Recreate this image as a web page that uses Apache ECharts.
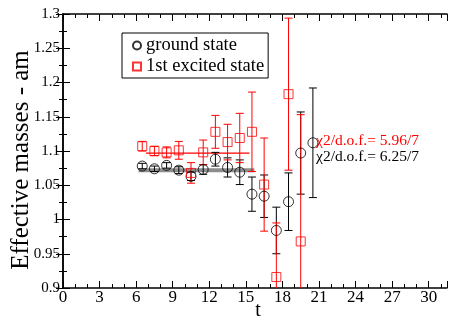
<!DOCTYPE html>
<html>
<head>
<meta charset="utf-8">
<script src="https://cdn.jsdelivr.net/npm/echarts@6/dist/echarts.min.js"></script>
<style>
  html, body { margin: 0; padding: 0; background: #fff; }
  #chart { width: 453px; height: 320px; }
</style>
</head>
<body>
<div id="chart"></div>
<script>
var SERIF = 'Liberation Serif, DejaVu Serif, serif'

// ground state
var groundT = [6.5, 7.5, 8.5, 9.5, 10.5, 11.5, 12.5, 13.5, 14.5, 15.5, 16.5, 17.5, 18.5, 19.5, 20.5]
var groundMass = [1.078, 1.074, 1.079, 1.072, 1.063, 1.073, 1.088, 1.076, 1.069, 1.037, 1.034, 0.984, 1.026, 1.097, 1.112]
var groundErr = [0.004, 0.004, 0.004, 0.005, 0.006, 0.007, 0.010, 0.014, 0.018, 0.025, 0.031, 0.034, 0.042, 0.060, 0.080]

// 1st excited state
var excitedT = [6.5, 7.5, 8.5, 9.5, 10.5, 11.5, 12.5, 13.5, 14.5, 15.5, 16.5, 17.5, 18.5, 19.5]
var excitedMass = [1.107, 1.100, 1.098, 1.101, 1.068, 1.098, 1.128, 1.113, 1.119, 1.128, 1.051, 0.916, 1.183, 0.968]
var excitedErr = [0.007, 0.007, 0.008, 0.013, 0.015, 0.018, 0.024, 0.026, 0.036, 0.058, 0.068, 0.079, 0.111, 0.185]

// fits (plateau value, t range)
var groundFit = [[6.2, 1.072], [15.7, 1.072]]
var excitedFit = [[6.8, 1.097], [15.3, 1.097]]

var chiLabels = ['\u03c72/d.o.f.= 5.96/7', '\u03c72/d.o.f.= 6.25/7']
var xTitle = 't'
var yTitle = 'Effective masses - am'

function points(ts, ms) {
  return ts.map(function (t, i) { return [t, ms[i]] })
}
function bars(ts, ms, es) {
  return ts.map(function (t, i) { return [t, ms[i] - es[i], ms[i] + es[i]] })
}
function errorBar(color) {
  return function (params, api) {
    var lo = api.coord([api.value(0), api.value(1)])
    var hi = api.coord([api.value(0), api.value(2)])
    var w = 4
    var style = { stroke: color, lineWidth: 1 }
    return {
      type: 'group',
      children: [
        { type: 'line', shape: { x1: lo[0], y1: lo[1], x2: hi[0], y2: hi[1] }, style: style },
        { type: 'line', shape: { x1: lo[0] - w, y1: lo[1], x2: lo[0] + w, y2: lo[1] }, style: style },
        { type: 'line', shape: { x1: hi[0] - w, y1: hi[1], x2: hi[0] + w, y2: hi[1] }, style: style }
      ]
    }
  }
}

var axisLine = { lineStyle: { color: '#000', width: 1.5 } }
function xAx(pos, labels) {
  return {
    type: 'value', position: pos, min: 0, max: 31.5, interval: 3,
    axisLine: axisLine,
    axisTick: { inside: true, length: 7, lineStyle: { color: '#000' } },
    minorTick: { show: true, splitNumber: 3, length: 4, lineStyle: { color: '#000' } },
    splitLine: { show: false },
    axisLabel: {
      show: labels, color: '#000', fontSize: 17, fontFamily: SERIF, margin: 1,
      showMaxLabel: false,
      formatter: function (v) { return v % 3 === 0 ? String(v) : '' }
    }
  }
}
function yAx(pos, labels) {
  return {
    type: 'value', position: pos, min: 0.9, max: 1.3, interval: 0.05,
    axisLine: axisLine,
    axisTick: { inside: true, length: 7, lineStyle: { color: '#000' } },
    minorTick: { show: true, splitNumber: 2, length: 4, lineStyle: { color: '#000' } },
    splitLine: { show: false },
    axisLabel: {
      show: labels, color: '#000', fontSize: 15, fontFamily: SERIF, margin: 3,
      formatter: function (v) { return String(parseFloat(v.toFixed(2))) }
    }
  }
}

var chart = echarts.init(document.getElementById('chart'))
chart.setOption({
  animation: false,
  grid: { left: 63, right: 6, top: 14, bottom: 32, outerBoundsMode: 'none', containLabel: false },
  xAxis: [xAx('bottom', true), xAx('top', false)],
  yAxis: [yAx('left', true), yAx('right', false)],
  legend: {
    data: ['ground state', '1st excited state'],
    orient: 'vertical', left: 122, top: 33,
    padding: [3, 4, 2, 10], itemGap: 2, itemWidth: 8, itemHeight: 8,
    borderColor: '#000', borderWidth: 1, borderRadius: 0,
    textStyle: { color: '#000', fontSize: 18.5, fontFamily: SERIF }
  },
  graphic: [
    { type: 'text', left: 316, top: 133, style: { text: chiLabels[0], fill: '#ff0000', font: '15.5px ' + SERIF } },
    { type: 'text', left: 316, top: 149, style: { text: chiLabels[1], fill: '#000', font: '15.5px ' + SERIF } },
    {
      type: 'text', x: 258, y: 311,
      style: { text: xTitle, fill: '#000', font: '20px ' + SERIF, textAlign: 'center', textVerticalAlign: 'middle' }
    },
    {
      type: 'text', x: 21, y: 160, rotation: Math.PI / 2,
      style: { text: yTitle, fill: '#000', font: '25px ' + SERIF, textAlign: 'center', textVerticalAlign: 'middle' }
    }
  ],
  series: [
    {
      type: 'line', data: groundFit, symbol: 'none', silent: true, z: 1,
      lineStyle: { color: '#8c8c8c', width: 4 }
    },
    {
      type: 'line', data: excitedFit, symbol: 'none', silent: true, z: 1,
      lineStyle: { color: '#ff0000', width: 1.2 }
    },
    {
      type: 'custom', clip: true, z: 2, silent: true,
      renderItem: errorBar('#000'), data: bars(groundT, groundMass, groundErr)
    },
    {
      type: 'custom', clip: true, z: 2, silent: true,
      renderItem: errorBar('#ff0000'), data: bars(excitedT, excitedMass, excitedErr)
    },
    {
      name: 'ground state', type: 'scatter', symbol: 'circle', symbolSize: 10, z: 3,
      data: points(groundT, groundMass),
      itemStyle: { color: 'transparent', borderColor: '#000', borderWidth: 1 }
    },
    {
      name: '1st excited state', type: 'scatter', symbol: 'rect', symbolSize: 9, z: 3,
      data: points(excitedT, excitedMass),
      itemStyle: { color: 'transparent', borderColor: '#ff0000', borderWidth: 1 }
    }
  ]
})
</script>
</body>
</html>
